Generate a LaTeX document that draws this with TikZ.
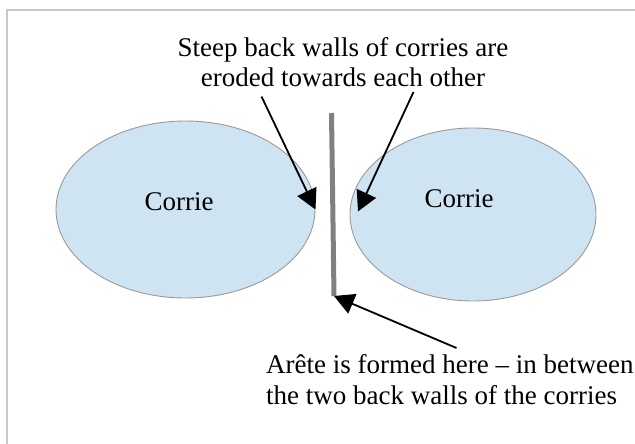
\documentclass[tikz,border=0pt]{standalone}
\usepackage{fontspec}
\setmainfont{Liberation Serif}
\usetikzlibrary{arrows.meta,positioning,shapes.geometric}

\definecolor{corriefill}{HTML}{CFE4F2}
\definecolor{corrieline}{HTML}{9A9A9A}
\definecolor{framegray}{HTML}{C8C8C8}
\definecolor{aretegray}{HTML}{808080}

\tikzset{
  corrie/.style={ellipse, draw=corrieline, fill=corriefill, line width=0.9pt, inner sep=0pt},
  note/.style={font=\fontsize{27}{31}\selectfont, inner sep=0pt},
  pointer/.style={-{Triangle[length=20pt,width=21pt]}, line width=1.8pt},
}

\begin{document}
\begin{tikzpicture}[x=1pt,y=-1pt]
    \useasboundingbox (0,0) rectangle (635,444);
    \clip (0,0) rectangle (635,444);

    % Frame (only top and left edge show)
    \draw[framegray, line width=2pt] (7,470) -- (7,10) -- (670,10);

    %%%%%%%%%%%%%%%%%%%%%%%%%%%%%%%%%%%%%%%%%%%%%%
    % The two corries
    %%%%%%%%%%%%%%%%%%%%%%%%%%%%%%%%%%%%%%%%%%%%%%
    \node[corrie, minimum width=259pt, minimum height=177pt] (corrieL) at (185.5,209.5) {};
    \node[corrie, minimum width=246pt, minimum height=173pt] (corrieR) at (473,214.5) {};
    \node[note] (labelL) at (179,202) {Corrie};
    \node[note] (labelR) at (459,199) {Corrie};

    % Arete between the back walls
    \coordinate (areteTop) at (331.5,113);
    \coordinate (areteBot) at (334,296);
    \draw[aretegray, line width=5pt] (areteTop) -- (areteBot);

    %%%%%%%%%%%%%%%%%%%%%%%%%%%%%%%%%%%%%%%%%%%%%%
    % Notes and pointers
    %%%%%%%%%%%%%%%%%%%%%%%%%%%%%%%%%%%%%%%%%%%%%%
    \node[note, align=center, anchor=base] (topnote) at (343,87)
      {Steep back walls of corries are\\eroded towards each other};
    \node[note, align=left, anchor=base west] (botnote) at (266,404)
      {Arête is formed here – in between\\the two back walls of the corries};

    \coordinate (wallL) at (261.5,96.5);
    \coordinate (wallR) at (413.5,92);
    \coordinate (tipR) at (358,211.5);
    \coordinate (areteNote) at (456.5,348);
    \draw[pointer] (wallL) -- (corrieL.east);
    \draw[pointer] (wallR) -- (tipR);
    \draw[pointer] (areteNote) -- (areteBot);
\end{tikzpicture}
\end{document}
